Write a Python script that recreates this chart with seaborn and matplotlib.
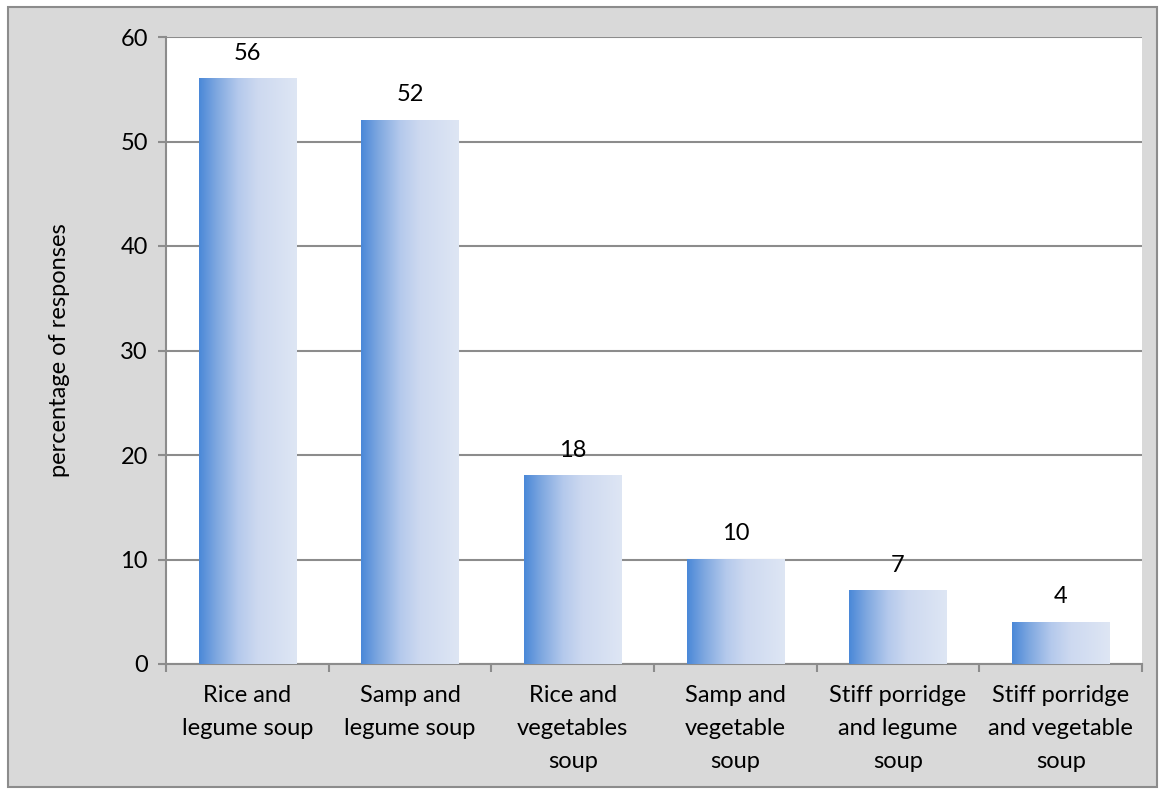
import numpy as np
import pandas as pd
import matplotlib
matplotlib.use("Agg")
import matplotlib.pyplot as plt
from matplotlib.patches import Rectangle
from matplotlib.colors import LinearSegmentedColormap
import seaborn as sns

# Meal combinations and share of responses (%)
categories = [
    "Rice and\nlegume soup",
    "Samp and\nlegume soup",
    "Rice and\nvegetables\nsoup",
    "Samp and\nvegetable\nsoup",
    "Stiff porridge\nand legume\nsoup",
    "Stiff porridge\nand vegetable\nsoup",
]
values = [56, 52, 18, 10, 7, 4]
y_ticks = [0, 10, 20, 30, 40, 50, 60]
y_label = "percentage of responses"

df = pd.DataFrame({"meal": categories, "pct": values})

sns.set_theme(style="white")
plt.rcParams["font.family"] = ["Lato", "DejaVu Sans"]

fig = plt.figure(figsize=(11.65, 7.94), dpi=100)
fig.patch.set_facecolor("white")

# grey chart area with a thin border, kept behind the axes
frame = Rectangle((8 / 1165, 7 / 794), (1157 - 8) / 1165, (787 - 7) / 794,
                  transform=fig.transFigure, facecolor="#D9D9D9",
                  edgecolor="#8C8C8C", linewidth=1.5, zorder=-10)
fig.add_artist(frame)

ax = fig.add_axes([166 / 1165, 1 - 664 / 794, (1142 - 166) / 1165, (664 - 37) / 794])
ax.set_zorder(1)
ax.set_facecolor("white")

sns.barplot(data=df, x="meal", y="pct", width=0.6, color="#4A88D8", ax=ax, zorder=3)

# horizontal gradient fill for each bar
grad = LinearSegmentedColormap.from_list(
    "bar_grad",
    [(0.0, "#4A88D8"), (0.18, "#7FA8E0"), (0.4, "#B4C9EC"),
     (0.6, "#CDD9F0"), (1.0, "#DEE6F4")])
ramp = np.linspace(0, 1, 256).reshape(1, -1)
for patch in ax.patches:
    x0, y0 = patch.get_x(), patch.get_y()
    w, h = patch.get_width(), patch.get_height()
    patch.set_facecolor("none")
    patch.set_edgecolor("none")
    ax.imshow(ramp, cmap=grad, extent=[x0, x0 + w, y0, y0 + h],
              aspect="auto", interpolation="bilinear", zorder=3)

ax.set_ylim(0, 60)
ax.set_xlim(-0.5, len(categories) - 0.5)

# value labels above bars
for i, v in enumerate(values):
    ax.annotate(f"{v}", (i, v), xytext=(0, 11), textcoords="offset points",
                ha="center", va="bottom", fontsize=17, color="black")

# grid and axes styling
ax.set_yticks(y_ticks)
ax.yaxis.grid(True, color="#8C8C8C", linewidth=1.5, zorder=1)
ax.xaxis.grid(False)
ax.set_axisbelow(True)
for side in ("top", "right"):
    ax.spines[side].set_visible(False)
for side in ("left", "bottom"):
    ax.spines[side].set_color("#8C8C8C")
    ax.spines[side].set_linewidth(1.5)

ax.tick_params(axis="y", which="major", direction="out", length=6, width=1.5,
               color="#8C8C8C", labelsize=17, labelcolor="black", pad=7, left=True)
ax.set_xticks(range(len(categories)))
ax.set_xticklabels(categories, fontsize=17, color="black", linespacing=1.7)
ax.set_xticks(np.arange(-0.5, len(categories), 1.0), minor=True)
ax.tick_params(axis="x", which="major", length=0, pad=15)
ax.tick_params(axis="x", which="minor", direction="out", length=6, width=1.5,
               color="#8C8C8C", bottom=True)

ax.set_xlabel("")
ax.set_ylabel(y_label, fontsize=17, color="black", labelpad=36)

fig.savefig("out.png", dpi=100, facecolor=fig.get_facecolor())
